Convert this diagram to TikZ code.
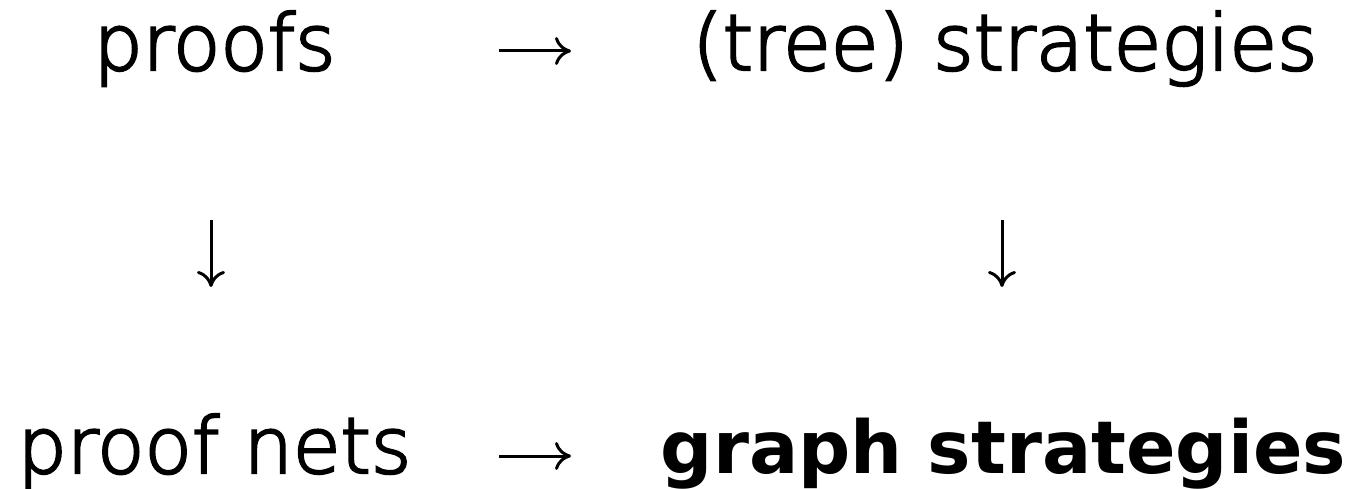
\documentclass[tikz,border=0pt]{standalone}
\usepackage{fontspec}
\setmainfont{DejaVu Sans}
\newfontfamily\lightsans{DejaVuSans-ExtraLight.ttf}[FakeBold=3]
\usetikzlibrary{arrows.meta}
\tikzset{
  lbl/.style={inner sep=0pt, anchor=base, font=\lightsans\fontsize{77.5}{90}\selectfont},
  blbl/.style={inner sep=0pt, anchor=base, font=\fontsize{73}{90}\selectfont\bfseries},
  arr/.style={line width=3pt, -{Computer Modern Rightarrow[length=16pt,width=28pt,line width=3pt]}}
}
\begin{document}
\begin{tikzpicture}[x=1pt,y=-1pt]
\useasboundingbox (0,0) rectangle (1353,489);
\node[lbl] (pf) at (214.5,70) {proofs};
\node[lbl] (ts) at (1005,70) {(tree) strategies};
\node[lbl] (pn) at (214.5,473) {proof nets};
\node[blbl] (gs) at (1003.5,473) {graph strategies};
\draw[arr, shorten <=284.5pt, shorten >=434pt] ([yshift=19pt]pf.base) -- ([yshift=19pt]ts.base);
\draw[arr, shorten <=284.5pt, shorten >=432.5pt] ([yshift=17pt]pn.base) -- ([yshift=17pt]gs.base);
\draw[arr, shorten <=150pt, shorten >=186pt] ([xshift=-3.5pt]pf.base) -- ([xshift=-3.5pt]pn.base);
\draw[arr, shorten <=150pt, shorten >=186pt] ([xshift=-3pt]ts.base) -- ([xshift=-1.5pt]gs.base);
\end{tikzpicture}
\end{document}
